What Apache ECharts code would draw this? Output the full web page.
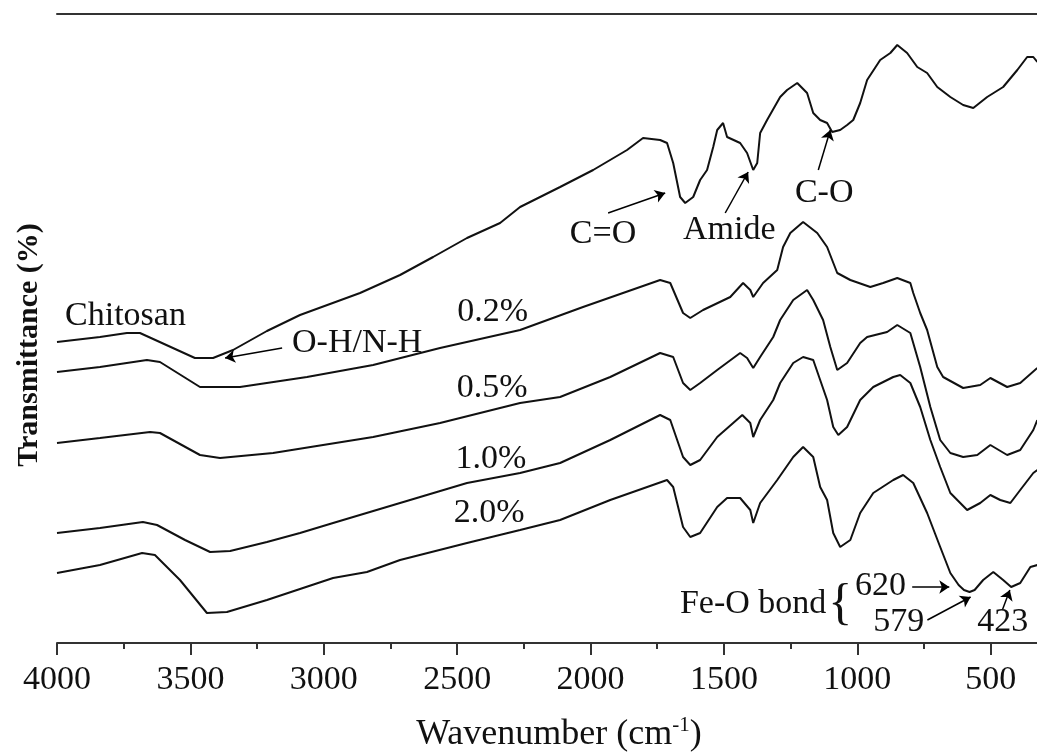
<!DOCTYPE html>
<html>
<head>
<meta charset="utf-8">
<script src="https://cdn.jsdelivr.net/npm/echarts@6/dist/echarts.min.js"></script>
<style>
  html, body { margin: 0; padding: 0; background: #fff; }
  #chart { width: 1037px; height: 756px; }
</style>
</head>
<body>
<div id="chart"></div>
<script>
// FTIR spectra of chitosan films, offset vertically (arbitrary transmittance units)
// Each point: [wavenumber (cm-1), transmittance offset]
const sampleNames = ['Chitosan', '0.2%', '0.5%', '1.0%', '2.0%'];

const chitosan = [
  [4000,30.1],[3839,30.6],[3738,31.0],[3689,31.0],[3483,28.5],[3415,28.5],[3340,29.3],[3213,31.2],
  [3089,32.8],[2864,35.0],[2714,36.8],[2590,38.6],[2463,40.5],[2339,42.0],[2264,43.6],[2114,45.6],
  [1990,47.3],[1863,49.3],[1803,50.5],[1739,50.3],[1713,50.0],[1690,48.0],[1664,44.6],[1645,44.0],
  [1615,44.6],[1589,46.3],[1563,47.3],[1540,49.6],[1525,51.3],[1503,52.0],[1488,50.6],[1439,50.0],
  [1413,49.0],[1390,47.3],[1375,48.0],[1364,51.0],[1338,52.3],[1289,54.6],[1263,55.3],[1225,56.0],
  [1188,55.0],[1165,53.0],[1139,52.3],[1113,52.0],[1094,51.1],[1064,51.3],[1038,51.8],[1015,52.3],
  [989,54.0],[963,56.3],[914,58.3],[876,59.0],[850,59.8],[813,59.0],[775,57.6],[738,57.0],
  [700,55.6],[651,54.6],[603,53.8],[565,53.5],[513,54.6],[453,55.6],[400,57.3],[363,58.6],
  [340,58.6],[325,58.1]
];

const film02 = [
  [4000,27.1],[3839,27.6],[3663,28.3],[3614,28.1],[3464,25.6],[3314,25.6],[3063,26.6],[2815,27.8],
  [2564,29.5],[2264,31.3],[2028,33.6],[1739,36.3],[1701,36.0],[1653,33.0],[1626,32.5],[1578,33.3],
  [1476,34.6],[1428,36.0],[1401,35.3],[1390,34.6],[1353,36.0],[1300,37.3],[1278,39.6],[1251,41.0],
  [1203,42.1],[1150,41.0],[1113,39.6],[1075,37.0],[1026,36.3],[951,35.6],[903,36.0],[850,36.5],
  [801,36.0],[790,35.0],[764,33.0],[738,31.3],[700,27.6],[678,26.6],[603,25.5],[539,25.8],
  [501,26.5],[438,25.6],[389,26.0],[325,27.5]
];

const film05 = [
  [4000,20.0],[3839,20.5],[3651,21.1],[3614,21.0],[3464,18.8],[3389,18.5],[3190,19.0],[2815,20.6],
  [2564,22.0],[2264,24.0],[2114,24.6],[1926,26.6],[1739,29.0],[1690,28.6],[1653,26.0],[1626,25.3],
  [1589,26.0],[1525,27.3],[1439,29.0],[1413,28.5],[1390,27.5],[1364,28.6],[1315,30.6],[1289,32.3],
  [1240,34.3],[1188,35.3],[1165,34.3],[1128,32.3],[1101,29.6],[1075,27.3],[1038,28.0],[989,30.0],
  [963,30.6],[888,31.1],[850,31.8],[801,31.0],[764,27.6],[726,23.6],[689,20.3],[651,19.0],
  [603,18.6],[550,18.8],[501,19.8],[438,18.8],[389,19.3],[340,21.3],[325,22.3]
];

const film10 = [
  [4000,11.0],[3839,11.5],[3678,12.1],[3625,11.8],[3520,10.3],[3426,9.1],[3351,9.2],[3213,10.1],
  [3089,11.0],[2965,12.0],[2714,14.0],[2463,16.0],[2264,17.0],[2114,18.0],[1926,20.3],[1739,22.8],
  [1701,22.3],[1653,18.6],[1626,17.8],[1589,18.3],[1525,20.6],[1431,22.8],[1401,22.0],[1390,20.6],
  [1364,22.3],[1315,24.3],[1289,26.0],[1240,28.0],[1203,28.6],[1165,28.3],[1139,26.3],[1113,24.3],
  [1090,21.6],[1071,20.8],[1038,21.6],[989,24.3],[940,25.6],[865,26.6],[839,26.8],[801,26.0],
  [764,23.6],[726,20.3],[689,17.6],[651,15.0],[588,13.3],[539,14.0],[501,14.8],[464,14.3],
  [426,14.0],[389,15.3],[340,17.0],[325,17.3]
];

const film20 = [
  [4000,7.0],[3839,7.8],[3681,9.0],[3633,8.8],[3539,6.3],[3438,3.0],[3363,3.1],[3213,4.3],
  [2965,6.5],[2838,7.1],[2714,8.3],[2463,10.0],[2264,11.3],[2114,12.3],[1926,14.3],[1713,16.3],
  [1690,15.6],[1653,11.6],[1626,10.6],[1589,11.0],[1525,13.6],[1488,14.5],[1439,14.5],[1401,13.3],
  [1390,12.0],[1364,14.0],[1300,16.3],[1240,18.6],[1203,19.6],[1165,18.6],[1139,15.6],[1113,14.3],
  [1090,11.0],[1064,9.6],[1026,10.3],[989,13.0],[940,15.0],[865,16.3],[828,16.8],[790,16.0],
  [738,13.0],[689,9.6],[651,7.0],[620,5.8],[600,5.3],[579,5.1],[560,5.3],[528,6.3],
  [490,7.1],[453,6.3],[423,5.6],[389,6.0],[351,7.6],[325,7.8]
];

const spectra = [chitosan, film02, film05, film10, film20];

// Band assignments and sample labels, anchored in data space [wavenumber, offset]
const notes = [
  { text: 'Chitosan', at: [3970, 32.7], align: 'left' },
  { text: 'O-H/N-H', at: [3119, 30.0], align: 'left' },
  { text: '0.2%', at: [2367, 33.1], align: 'center' },
  { text: '0.5%', at: [2369, 25.5], align: 'center' },
  { text: '1.0%', at: [2373, 18.4], align: 'center' },
  { text: '2.0%', at: [2380, 13.0], align: 'center' },
  { text: 'C=O', at: [1953, 40.9], align: 'center' },
  { text: 'Amide', at: [1480, 41.3], align: 'center' },
  { text: 'C-O', at: [1124, 45.0], align: 'center' },
  { text: 'Fe-O bond', at: [1116, 3.9], align: 'right' },
  { text: '620', at: [1008, 5.7], align: 'left' },
  { text: '579', at: [940, 2.1], align: 'left' },
  { text: '423', at: [550, 2.1], align: 'left' }
];
const brace = { text: '{', at: [1064, 3.8] };

// Arrows: [tail, head]
const arrows = [
  [[3156, 29.5], [3370, 28.5]],
  [[1934, 43.0], [1720, 45.0]],
  [[1495, 43.0], [1409, 47.1]],
  [[1146, 47.3], [1101, 51.3]],
  [[794, 5.6], [655, 5.6]],
  [[737, 2.3], [575, 4.6]],
  [[456, 3.3], [428, 5.3]]
];

const SERIF = '"Liberation Serif", "Times New Roman", serif';
const INK = '#111';
const AXIS = '#333';

const chart = echarts.init(document.getElementById('chart'), null, { renderer: 'canvas' });

const series = spectra.map((data, i) => ({
  name: sampleNames[i],
  type: 'line',
  data: data,
  showSymbol: false,
  symbol: 'none',
  silent: true,
  lineStyle: { color: INK, width: 2 },
  z: 3
}));

series[0].markLine = {
  silent: true,
  animation: false,
  symbol: ['none', 'arrow'],
  symbolSize: 10,
  label: { show: false },
  lineStyle: { color: '#000', width: 1.5, type: 'solid' },
  emphasis: { disabled: true },
  data: arrows.map(([a, b]) => [{ coord: a }, { coord: b }])
};

// The wavenumber axis runs 4000 -> 0, but the canvas cuts it off near 325 cm-1
const option = {
  animation: false,
  backgroundColor: '#fff',
  grid: { left: 57, right: -87, top: 14, bottom: 113, outerBoundsMode: 'none', containLabel: false },
  xAxis: [
    {
      type: 'value',
      inverse: true,
      min: 0,
      max: 4000,
      interval: 500,
      position: 'bottom',
      axisLine: { show: true, lineStyle: { color: AXIS, width: 2 } },
      axisTick: { show: true, inside: false, length: 12, lineStyle: { color: AXIS, width: 2 } },
      minorTick: { show: true, splitNumber: 2, length: 6, lineStyle: { color: AXIS, width: 2 } },
      axisLabel: {
        show: true, margin: 20, color: INK, fontSize: 34, fontFamily: SERIF,
        hideOverlap: false,
        formatter: (v) => String(v)
      },
      splitLine: { show: false },
      minorSplitLine: { show: false }
    },
    {
      type: 'value',
      inverse: true,
      min: 0,
      max: 4000,
      position: 'top',
      axisLine: { show: true, lineStyle: { color: AXIS, width: 2 } },
      axisTick: { show: false },
      axisLabel: { show: false },
      splitLine: { show: false }
    }
  ],
  yAxis: {
    type: 'value',
    min: 0,
    max: 62.9,
    axisLine: { show: true, lineStyle: { color: AXIS, width: 2.5 } },
    axisTick: { show: false },
    axisLabel: { show: false },
    splitLine: { show: false }
  },
  series: series
};

chart.setOption(option);

const px = (p) => chart.convertToPixel({ seriesIndex: 0 }, p);

const graphics = notes.map((n) => {
  const [x, y] = px(n.at);
  return {
    type: 'text', x, y, silent: true, z: 10,
    style: {
      text: n.text, fill: INK, fontSize: 34, fontFamily: SERIF,
      align: n.align, verticalAlign: 'middle'
    }
  };
});

const [bx, by] = px(brace.at);
graphics.push({
  type: 'text', x: bx, y: by, silent: true, z: 10,
  style: { text: brace.text, fill: INK, fontSize: 50, fontFamily: SERIF, align: 'center', verticalAlign: 'middle' }
});

// Axis titles
graphics.push({
  type: 'text', x: 559, y: 735, silent: true, z: 10,
  style: {
    text: 'Wavenumber (cm{sup|-1})',
    fill: INK, fontSize: 36, fontFamily: SERIF, lineHeight: 40,
    align: 'center', verticalAlign: 'middle',
    rich: {
      sup: { fontSize: 21, fontFamily: SERIF, fill: INK, lineHeight: 24, verticalAlign: 'top' }
    }
  }
});
graphics.push({
  type: 'text', x: 29, y: 345, rotation: Math.PI / 2, silent: true, z: 10,
  style: {
    text: 'Transmittance (%)', fill: INK, fontSize: 30, fontWeight: 'bold', fontFamily: SERIF,
    align: 'center', verticalAlign: 'middle'
  }
});

chart.setOption({ graphic: graphics });
</script>
</body>
</html>
